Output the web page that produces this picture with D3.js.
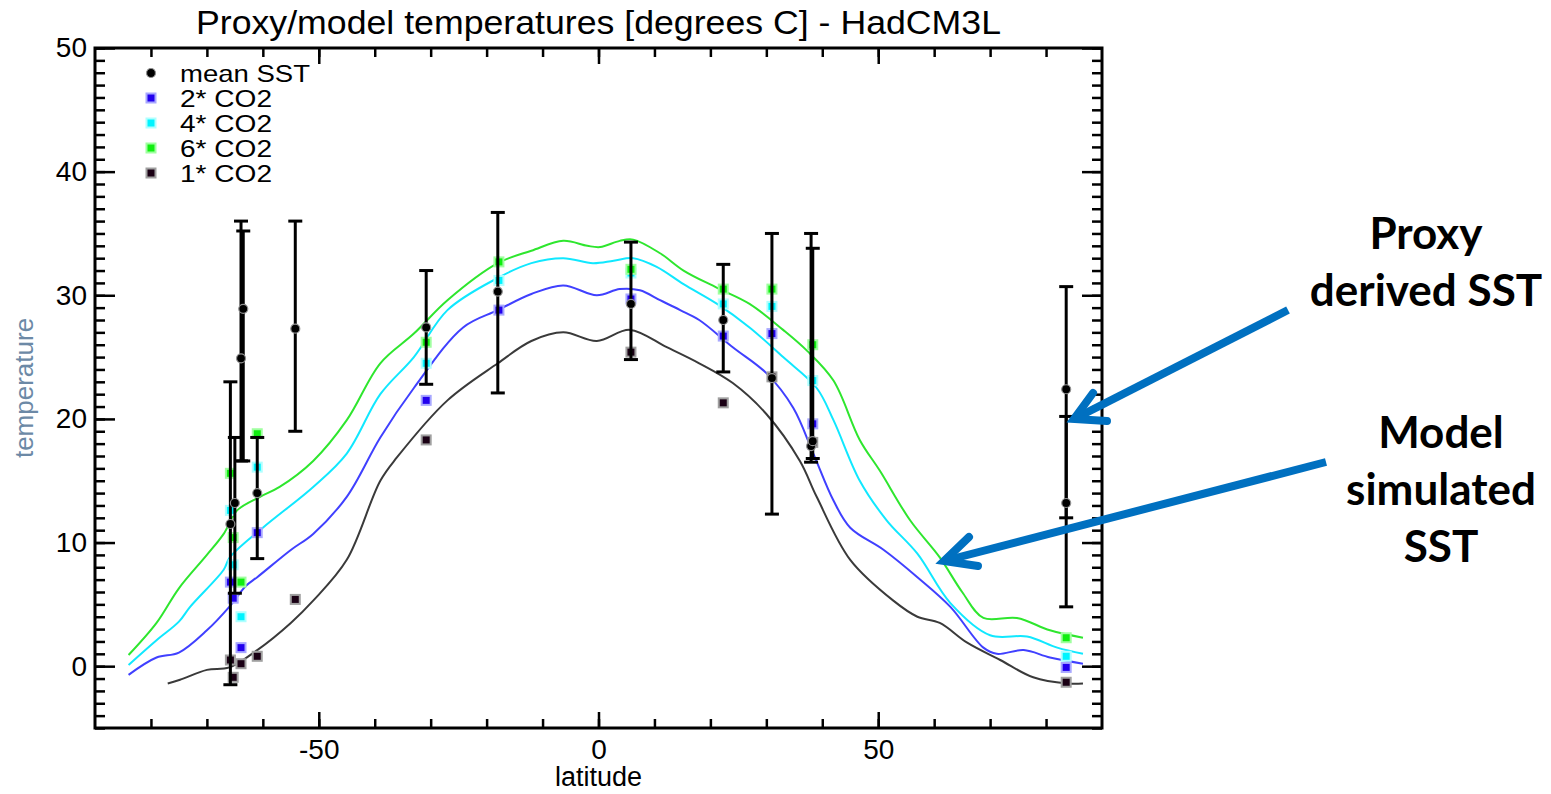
<!DOCTYPE html>
<html>
<head>
<meta charset="utf-8">
<script src="https://cdn.jsdelivr.net/npm/d3@7"></script>
<style>
    body { margin: 0; background: #fff; }
    svg { display: block; }
    .idl { font-family: "Liberation Sans", Arial, sans-serif; fill: #000; }
    .note { font-family: Lato, "Open Sans", sans-serif; font-weight: 700; fill: #000; }
</style>
</head>
<body>
<div id="chart"></div>
<script>
/* * * * * * * * * * * * * *
*   data  *
* * * * * * * * * * * * * */

// zonal mean model SST curves (latitude, degrees C)
const lat6 = [-84, -79, -75, -70, -67, -64.6, -60.5, -57, -51, -45, -39, -33, -27, -18, -12, -6.3, -2, 0.3, 3.8, 6.2, 11, 15.2, 21.2, 27, 33, 37.3, 42, 46.7, 50.3, 55.7, 61, 65, 68.8, 74.8, 80.7, 86.6];
const co2x6Line = [0.9, 3.5, 6.3, 9.0, 10.7, 12.6, 13.7, 14.5, 16.6, 19.9, 24.5, 26.9, 29.6, 32.6, 33.6, 34.4, 34.0, 33.9, 34.4, 34.5, 33.4, 32.0, 30.6, 29.3, 27.2, 25.5, 23.1, 18.3, 15.8, 11.8, 8.8, 6.0, 3.9, 3.9, 2.9, 2.3];

const lat4 = [-84, -79, -75, -73, -67, -65.9, -60, -51, -45, -39, -33, -27, -18, -12, -6.3, -1, 2.7, 6.2, 10.4, 15.2, 21.2, 27, 33, 39, 42, 46.7, 51.5, 57, 62.9, 70, 76.6, 82, 86.6];
const co2x4Line = [0.1, 2.1, 3.6, 4.8, 7.8, 8.8, 11.2, 14.5, 17.2, 22.0, 25.0, 28.8, 31.4, 32.6, 33.0, 32.6, 32.8, 33.0, 32.3, 30.9, 29.3, 27.4, 25.0, 22.5, 19.9, 15.0, 11.8, 9.1, 5.1, 2.5, 2.4, 1.5, 1.0];

const lat2 = [-84, -79, -75, -70, -66, -63, -61, -55, -51, -45, -39, -33, -24.2, -18, -12, -6.3, -0.3, 3.8, 7.4, 11, 14.6, 18, 24, 30, 34.8, 38.4, 42, 45, 51, 57, 62.9, 68.8, 71.2, 76, 80.7, 86.6];
const co2x2Line = [-0.7, 0.7, 1.1, 2.9, 4.8, 6.5, 7.2, 9.4, 10.7, 13.7, 18.5, 22.5, 27.4, 28.8, 30.1, 30.8, 30.0, 30.5, 30.4, 29.6, 28.8, 28.0, 25.8, 23.7, 20.9, 17.2, 13.4, 11.2, 9.4, 7.2, 4.8, 1.5, 1.0, 1.3, 0.7, 0.2];

const lat1 = [-77, -74.8, -70, -66, -61, -55, -51, -45, -39, -36, -27, -18, -12, -6.3, -0.3, 5.6, 12.2, 18, 24, 30, 36, 39, 45, 52.7, 57, 61, 65.9, 71.8, 77.7, 83.7, 86.6];
const co2x1Line = [-1.4, -1.1, -0.3, -0.1, 1.3, 3.5, 5.3, 8.6, 15.0, 16.9, 21.5, 24.5, 26.3, 27.0, 26.3, 27.2, 25.8, 24.5, 22.9, 20.4, 16.6, 13.7, 8.6, 5.3, 4.0, 3.5, 1.9, 0.5, -0.9, -1.4, -1.4];

// model values at the proxy sites
const siteLat = [-65.8, -65.3, -63.9, -61.0, -54.2, -30.8, -17.8, 5.8, 22.3, 31.0, 38.3, 83.6];
const co2x1Pts = [0.5, -0.9, 0.2, 0.8, 5.4, 18.3, null, 25.4, 21.3, 23.4, 18.1, -1.3];
const co2x2Pts = [6.8, 5.5, 1.5, 10.8, null, 21.5, 28.8, 29.7, 26.7, 26.9, 19.6, -0.1];
const co2x4Pts = [12.6, 8.2, 4.0, 16.1, null, 24.5, 31.2, 31.8, 29.3, 29.1, 23.1, 0.8];
const co2x6Pts = [15.6, 10.4, 6.8, 18.8, null, 26.2, 32.7, 32.1, 30.5, 30.5, 26.0, 2.3];

// proxy derived SST, mean and range
const proxyLat = [-65.8, -65.0, -63.9, -63.5, -61.0, -54.2, -30.8, -18.0, 5.8, 22.3, 31.0, 38.0, 38.3, 83.6, 83.6];
const proxyMean = [11.5, 13.2, 24.9, 28.9, 14.0, 27.3, 27.4, 30.3, 29.3, 28.0, 23.3, 17.8, 18.2, 22.4, 13.2];
const proxyLo = [-1.5, 5.9, 16.6, 16.6, 8.7, 19.0, 22.8, 22.1, 24.8, 23.8, 12.3, 16.5, 16.8, 12.0, 4.8];
const proxyHi = [23.0, 18.5, 36.0, 35.2, 18.5, 36.0, 32.0, 36.7, 34.3, 32.5, 35.0, 35.0, 33.8, 30.7, 20.2];

const legendLabels = ["mean SST", "2* CO2", "4* CO2", "6* CO2", "1* CO2"];
const xMajor = [-50, 0, 50];
const yMajor = [0, 10, 20, 30, 40, 50];

/* * * * * * * * * * * * * *
*          drawing          *
* * * * * * * * * * * * * */

const width = 1551, height = 794;
const margin = {top: 48, right: 449, bottom: 66, left: 95};

const svg = d3.select("#chart").append("svg")
    .attr("width", width)
    .attr("height", height);

// scales
const x = d3.scaleLinear().domain([-90, 90]).range([margin.left, width - margin.right]);
const y = d3.scaleLinear().domain([-5, 50]).range([height - margin.bottom, margin.top]);

// series styles
const series = {
    x1: {fill: "#1a0014", halo: "#a0a0a0", line: "#3a3a3a"},
    x2: {fill: "#2200ee", halo: "#a8a8ff", line: "#4040ff"},
    x4: {fill: "#00f4ff", halo: "#b0ffff", line: "#10e8ff"},
    x6: {fill: "#10ee10", halo: "#a0ffa0", line: "#2ee62e"}
};

// title
svg.append("text")
    .attr("class", "idl")
    .attr("x", x(0))
    .attr("y", 34)
    .attr("text-anchor", "middle")
    .attr("font-size", 34)
    .attr("textLength", 805)
    .attr("lengthAdjust", "spacingAndGlyphs")
    .text("Proxy/model temperatures [degrees C] - HadCM3L");

// axes: minor and major ticks drawn inward on all four sides
function tickStyle(g) {
    g.select(".domain").remove();
    g.selectAll(".tick line").attr("stroke", "#000").attr("stroke-width", 2.5);
    g.selectAll(".tick text").attr("class", "idl").attr("font-size", 28);
}
const plain = d => String(d);   // hyphen minus like the original, not the unicode minus

const xMinor = d3.range(-80, 81, 10);
const yMinor = d3.range(-5, 51, 1);
const bottomY = y(-5), topY = y(50), leftX = x(-90), rightX = x(90);

svg.append("g").attr("transform", `translate(0,${bottomY})`)
    .call(d3.axisBottom(x).tickValues(xMinor).tickSize(-9).tickFormat(""))
    .call(tickStyle);
svg.append("g").attr("transform", `translate(0,${bottomY})`)
    .call(d3.axisBottom(x).tickValues(xMajor).tickSize(-16).tickPadding(11).tickFormat(plain))
    .call(tickStyle);
svg.append("g").attr("transform", `translate(0,${topY})`)
    .call(d3.axisTop(x).tickValues(xMinor).tickSize(-9).tickFormat(""))
    .call(tickStyle);
svg.append("g").attr("transform", `translate(0,${topY})`)
    .call(d3.axisTop(x).tickValues(xMajor).tickSize(-16).tickFormat(""))
    .call(tickStyle);

svg.append("g").attr("transform", `translate(${leftX},0)`)
    .call(d3.axisLeft(y).tickValues(yMinor).tickSize(-10).tickFormat(""))
    .call(tickStyle);
svg.append("g").attr("transform", `translate(${leftX},0)`)
    .call(d3.axisLeft(y).tickValues(yMajor).tickSize(-20).tickPadding(8).tickFormat(plain))
    .call(tickStyle);
svg.append("g").attr("transform", `translate(${rightX},0)`)
    .call(d3.axisRight(y).tickValues(yMinor).tickSize(-10).tickFormat(""))
    .call(tickStyle);
svg.append("g").attr("transform", `translate(${rightX},0)`)
    .call(d3.axisRight(y).tickValues(yMajor).tickSize(-20).tickFormat(""))
    .call(tickStyle);

// frame
svg.append("rect")
    .attr("x", leftX).attr("y", topY)
    .attr("width", rightX - leftX).attr("height", bottomY - topY)
    .attr("fill", "none").attr("stroke", "#000").attr("stroke-width", 3);

// axis titles
svg.append("text")
    .attr("class", "idl")
    .attr("x", x(0)).attr("y", 786)
    .attr("text-anchor", "middle")
    .attr("font-size", 27)
    .text("latitude");

svg.append("text")
    .attr("class", "idl")
    .attr("transform", `translate(33,${y(22.5)}) rotate(-90)`)
    .attr("text-anchor", "middle")
    .attr("font-size", 26)
    .style("fill", "#6c89a6")
    .text("temperature");

// model curves
const line = d3.line()
    .x(d => x(d[0]))
    .y(d => y(d[1]))
    .curve(d3.curveCatmullRom.alpha(0.5));

const curves = [
    {lat: lat1, val: co2x1Line, s: series.x1},
    {lat: lat2, val: co2x2Line, s: series.x2},
    {lat: lat4, val: co2x4Line, s: series.x4},
    {lat: lat6, val: co2x6Line, s: series.x6}
];

svg.append("g").selectAll("path")
    .data(curves)
    .enter()
    .append("path")
    .attr("d", c => line(d3.zip(c.lat, c.val)))
    .attr("fill", "none")
    .attr("stroke", c => c.s.line)
    .attr("stroke-width", 2);

// model values at the sites (squares)
const pts = [
    {val: co2x1Pts, s: series.x1},
    {val: co2x2Pts, s: series.x2},
    {val: co2x4Pts, s: series.x4},
    {val: co2x6Pts, s: series.x6}
];
const sq = 9;

pts.forEach(p => {
    const cells = siteLat.map((lat, i) => [lat, p.val[i]]).filter(d => d[1] !== null);
    svg.append("g").selectAll("rect")
        .data(cells)
        .enter()
        .append("rect")
        .attr("x", d => x(d[0]) - sq / 2)
        .attr("y", d => y(d[1]) - sq / 2)
        .attr("width", sq).attr("height", sq)
        .attr("fill", p.s.fill)
        .attr("stroke", p.s.halo)
        .attr("stroke-width", 2);
});

// proxy error bars
const proxy = proxyLat.map((lat, i) => ({lat: lat, mean: proxyMean[i], lo: proxyLo[i], hi: proxyHi[i]}));
const cap = 7;

const bars = svg.append("g").selectAll("g")
    .data(proxy)
    .enter()
    .append("g")
    .attr("stroke", "#000")
    .attr("stroke-width", 3);

bars.append("line")
    .attr("x1", d => x(d.lat)).attr("x2", d => x(d.lat))
    .attr("y1", d => y(d.lo)).attr("y2", d => y(d.hi));
bars.append("line")
    .attr("x1", d => x(d.lat) - cap).attr("x2", d => x(d.lat) + cap)
    .attr("y1", d => y(d.hi)).attr("y2", d => y(d.hi));
bars.append("line")
    .attr("x1", d => x(d.lat) - cap).attr("x2", d => x(d.lat) + cap)
    .attr("y1", d => y(d.lo)).attr("y2", d => y(d.lo));

svg.append("g").selectAll("circle")
    .data(proxy)
    .enter()
    .append("circle")
    .attr("cx", d => x(d.lat))
    .attr("cy", d => y(d.mean))
    .attr("r", 4.5)
    .attr("fill", "#000")
    .attr("stroke", "#909090")
    .attr("stroke-width", 1.2);

// legend
const legendStyles = [null, series.x2, series.x4, series.x6, series.x1];
const legend = svg.append("g").attr("transform", "translate(151,73)");

legendLabels.forEach((lab, i) => {
    const row = legend.append("g").attr("transform", `translate(0,${i * 25})`);
    const st = legendStyles[i];
    if (st === null) {
        row.append("circle").attr("r", 4.5).attr("fill", "#000")
            .attr("stroke", "#909090").attr("stroke-width", 1.2);
    } else {
        row.append("rect")
            .attr("x", -sq / 2).attr("y", -sq / 2)
            .attr("width", sq).attr("height", sq)
            .attr("fill", st.fill).attr("stroke", st.halo).attr("stroke-width", 2);
    }
    row.append("text")
        .attr("class", "idl")
        .attr("x", 29).attr("y", 9)
        .attr("font-size", 24)
        .attr("textLength", lab.length > 6 ? 130 : 92)
        .attr("lengthAdjust", "spacingAndGlyphs")
        .text(lab);
});

// annotations on the right
const blue = "#0070c0";
const notes = [
    {lines: ["Proxy", "derived SST"], cx: 1426, y0: 249},
    {lines: ["Model", "simulated", "SST"], cx: 1441, y0: 448}
];
notes.forEach(n => {
    n.lines.forEach((t, i) => {
        svg.append("text")
            .attr("class", "note")
            .attr("x", n.cx).attr("y", n.y0 + i * 57)
            .attr("text-anchor", "middle")
            .attr("font-size", 44)
            .text(t);
    });
});

const arrows = [
    {from: [1288, 310], to: [1074, 419], w1: [1093, 393], w2: [1107, 421]},
    {from: [1326, 462], to: [944, 561], w1: [969, 537], w2: [978, 566]}
];
arrows.forEach(a => {
    svg.append("line")
        .attr("x1", a.from[0]).attr("y1", a.from[1])
        .attr("x2", a.to[0]).attr("y2", a.to[1])
        .attr("stroke", blue).attr("stroke-width", 8);
    svg.append("path")
        .attr("d", d3.line()([a.w1, a.to, a.w2]))
        .attr("fill", "none")
        .attr("stroke", blue).attr("stroke-width", 8)
        .attr("stroke-linecap", "round")
        .attr("stroke-linejoin", "miter");
});
</script>
</body>
</html>
